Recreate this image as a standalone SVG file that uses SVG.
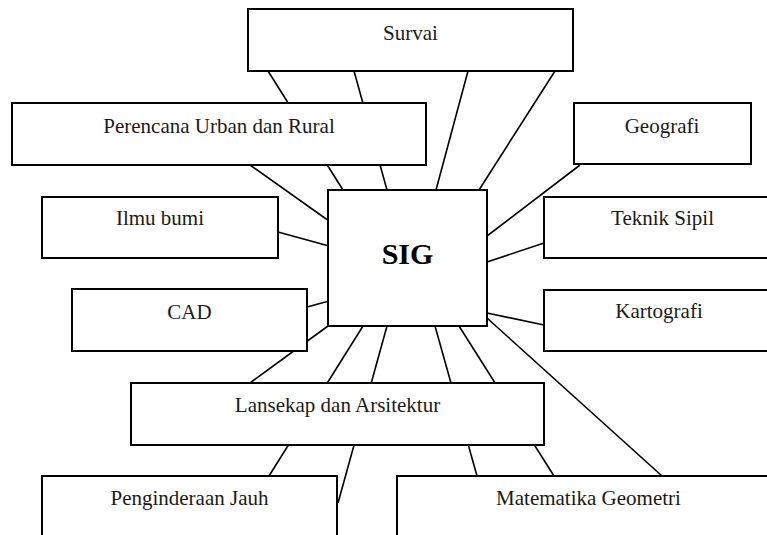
<svg xmlns="http://www.w3.org/2000/svg" width="767" height="535" viewBox="0 0 767 535">
<style>
.bg{fill:#ffffff}
.box{fill:#ffffff;stroke:#000000;stroke-width:2}
.ln{stroke:#000000;stroke-width:1.6;fill:none}
.lbl{font-family:"Liberation Serif","Times New Roman",serif;font-size:21px;fill:#1a1a1a;text-anchor:middle}
.hub{font-family:"Liberation Serif","Times New Roman",serif;font-size:30px;font-weight:bold;fill:#000000;text-anchor:middle}
</style>
<rect class="bg" x="0" y="0" width="767" height="535"/>
<g id="connectors">
<line class="ln" x1="268" y1="71" x2="343" y2="190"/>
<line class="ln" x1="354" y1="71" x2="387" y2="190"/>
<line class="ln" x1="468" y1="71" x2="436" y2="190"/>
<line class="ln" x1="555" y1="71" x2="479" y2="190"/>
<line class="ln" x1="250" y1="165" x2="329" y2="221"/>
<line class="ln" x1="278" y1="232" x2="329" y2="246"/>
<line class="ln" x1="307" y1="307" x2="329" y2="301"/>
<line class="ln" x1="328" y1="326" x2="250" y2="383"/>
<line class="ln" x1="363" y1="326" x2="269" y2="476"/>
<line class="ln" x1="387" y1="326" x2="338" y2="503"/>
<line class="ln" x1="435" y1="326" x2="477" y2="476"/>
<line class="ln" x1="459" y1="326" x2="554" y2="476"/>
<line class="ln" x1="487" y1="318" x2="662" y2="476"/>
<line class="ln" x1="580" y1="165" x2="487" y2="236"/>
<line class="ln" x1="544" y1="243" x2="487" y2="262"/>
<line class="ln" x1="544" y1="325" x2="487" y2="313"/>
</g>
<g id="survai">
<rect class="box" x="248" y="9" width="325" height="62"/>
<text class="lbl" x="410.5" y="40">Survai</text>
</g>
<g id="perencana">
<rect class="box" x="12" y="103" width="414" height="62"/>
<text class="lbl" x="219" y="133">Perencana Urban dan Rural</text>
</g>
<g id="geografi">
<rect class="box" x="574" y="103" width="177" height="61"/>
<text class="lbl" x="662" y="133">Geografi</text>
</g>
<g id="ilmu-bumi">
<rect class="box" x="42" y="197" width="236" height="61"/>
<text class="lbl" x="160" y="225">Ilmu bumi</text>
</g>
<g id="teknik-sipil">
<rect class="box" x="544" y="197" width="240" height="61"/>
<text class="lbl" x="662.5" y="225">Teknik Sipil</text>
</g>
<g id="sig">
<rect class="box" x="328" y="190" width="159" height="136"/>
<text class="hub" x="407.5" y="264">SIG</text>
</g>
<g id="cad">
<rect class="box" x="72" y="289" width="235" height="62"/>
<text class="lbl" x="189.5" y="319">CAD</text>
</g>
<g id="kartografi">
<rect class="box" x="544" y="290" width="240" height="61"/>
<text class="lbl" x="659" y="318">Kartografi</text>
</g>
<g id="lansekap">
<rect class="box" x="131" y="383" width="413" height="62"/>
<text class="lbl" x="337.5" y="412">Lansekap dan Arsitektur</text>
</g>
<g id="penginderaan">
<rect class="box" x="42" y="476" width="295" height="70"/>
<text class="lbl" x="189.5" y="505">Penginderaan Jauh</text>
</g>
<g id="matematika">
<rect class="box" x="397" y="476" width="383" height="70"/>
<text class="lbl" x="588.5" y="505">Matematika Geometri</text>
</g>
</svg>
